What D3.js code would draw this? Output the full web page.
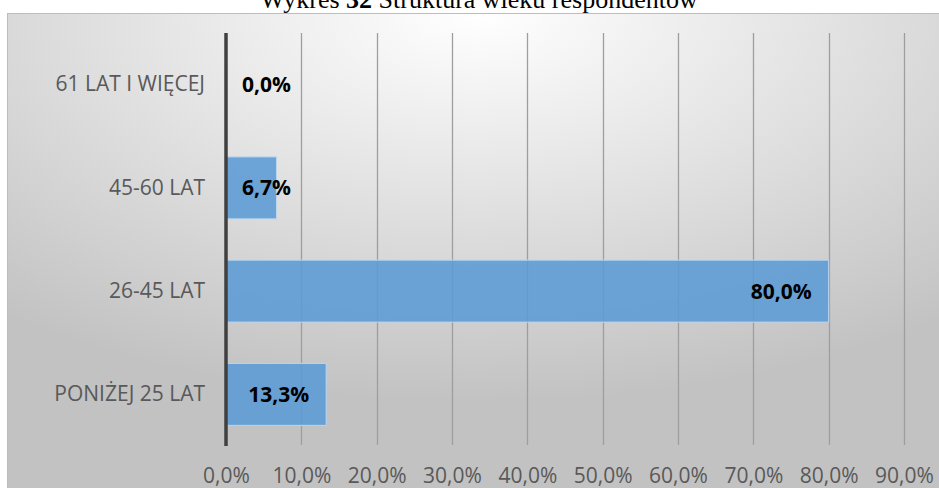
<!DOCTYPE html>
<html>
<head>
<meta charset="utf-8">
<script src="https://cdn.jsdelivr.net/npm/d3@7"></script>
<style>
  html, body { margin: 0; padding: 0; background: #ffffff; }
  svg { display: block; }
</style>
</head>
<body>
<svg id="chart" width="939" height="488"></svg>
<script>
// Age structure of respondents (share of answers)
const categories = ["61 LAT I WIĘCEJ", "45-60 LAT", "26-45 LAT", "PONIŻEJ 25 LAT"];
const shares = [0.0, 0.067, 0.80, 0.133];
const valueLabels = ["0,0%", "6,7%", "80,0%", "13,3%"];
const tickValues = [0, 0.1, 0.2, 0.3, 0.4, 0.5, 0.6, 0.7, 0.8, 0.9];
const tickLabels = ["0,0%", "10,0%", "20,0%", "30,0%", "40,0%", "50,0%", "60,0%", "70,0%", "80,0%", "90,0%"];

const svg = d3.select("#chart");
const W = 939, H = 488;
const font = "'Open Sans', 'Noto Sans', sans-serif";

// Chart title (serif, partly above the page edge)
const title = svg.append("text")
  .attr("x", 479)
  .attr("y", 7.5)
  .attr("text-anchor", "middle")
  .attr("font-family", "'Liberation Serif', 'Times New Roman', serif")
  .attr("font-size", 26)
  .attr("fill", "#000");
title.append("tspan").text("Wykres ");
title.append("tspan").attr("font-weight", "bold").text("32");
title.append("tspan").text(" Struktura wieku respondentów");

// Chart area background with a soft radial gradient
const defs = svg.append("defs");
const grad = defs.append("radialGradient")
  .attr("id", "bg")
  .attr("cx", "50%").attr("cy", "0%").attr("r", "80%")
  .attr("fx", "50%").attr("fy", "0%");
grad.append("stop").attr("offset", "0%").attr("stop-color", "#ffffff");
grad.append("stop").attr("offset", "100%").attr("stop-color", "#c2c2c2");

svg.append("rect")
  .attr("x", 7.5).attr("y", 13.5)
  .attr("width", W).attr("height", H)
  .attr("fill", "url(#bg)")
  .attr("stroke", "#bdbdbd")
  .attr("stroke-width", 1);

// Scales
const x = d3.scaleLinear().domain([0, 0.9]).range([226, 904]);
const y = d3.scaleBand().domain(categories).range([33, 446]).paddingInner(0.4).paddingOuter(0.2);

// Vertical gridlines
svg.append("g")
  .selectAll("line")
  .data(tickValues.slice(1))
  .join("line")
  .attr("x1", d => Math.round(x(d)) + 0.5)
  .attr("x2", d => Math.round(x(d)) + 0.5)
  .attr("y1", 33)
  .attr("y2", 445)
  .attr("stroke", "#9e9e9e")
  .attr("stroke-width", 1.3);

// Bars
svg.append("g")
  .selectAll("rect")
  .data(categories)
  .join("rect")
  .attr("x", x(0))
  .attr("y", d => y(d))
  .attr("width", (d, i) => x(shares[i]) - x(0))
  .attr("height", y.bandwidth())
  .attr("fill", "#5b9bd5")
  .attr("fill-opacity", 0.88)
  .attr("stroke", "#bcd6ee")
  .attr("stroke-width", (d, i) => shares[i] > 0 ? 1 : 0);

// Category axis
const yAxis = d3.axisLeft(y).tickSize(0).tickPadding(21);
const gy = svg.append("g").attr("transform", `translate(${x(0)},0)`).call(yAxis);
gy.select(".domain").remove();
gy.selectAll("text")
  .attr("font-family", font)
  .attr("font-size", 21)
  .attr("fill", "#595959");

svg.append("line")
  .attr("x1", x(0)).attr("x2", x(0))
  .attr("y1", 33).attr("y2", 446)
  .attr("stroke", "#404040")
  .attr("stroke-width", 3.5);

// Value axis labels
const xAxis = d3.axisBottom(x)
  .tickValues(tickValues)
  .tickFormat((d, i) => tickLabels[i])
  .tickSize(0)
  .tickPadding(0);
const gx = svg.append("g").attr("transform", "translate(0,468)").call(xAxis);
gx.select(".domain").remove();
gx.selectAll("text")
  .attr("font-family", font)
  .attr("font-size", 21)
  .attr("fill", "#595959")
  .attr("dy", "0.71em")
  .attr("y", 0);

// Data labels: inside the bar end, pushed right when the bar is too short
const labels = svg.append("g")
  .selectAll("text")
  .data(categories)
  .join("text")
  .attr("font-family", font)
  .attr("font-size", 21)
  .attr("font-weight", "bold")
  .attr("fill", "#000")
  .attr("y", d => y(d) + y.bandwidth() / 2)
  .attr("dy", "0.36em")
  .text((d, i) => valueLabels[i]);

labels.each(function (d, i) {
  const w = this.getComputedTextLength();
  const endX = Math.max(x(shares[i]) - 17, x(0) + 16 + w);
  d3.select(this).attr("x", endX).attr("text-anchor", "end");
});
</script>
</body>
</html>
